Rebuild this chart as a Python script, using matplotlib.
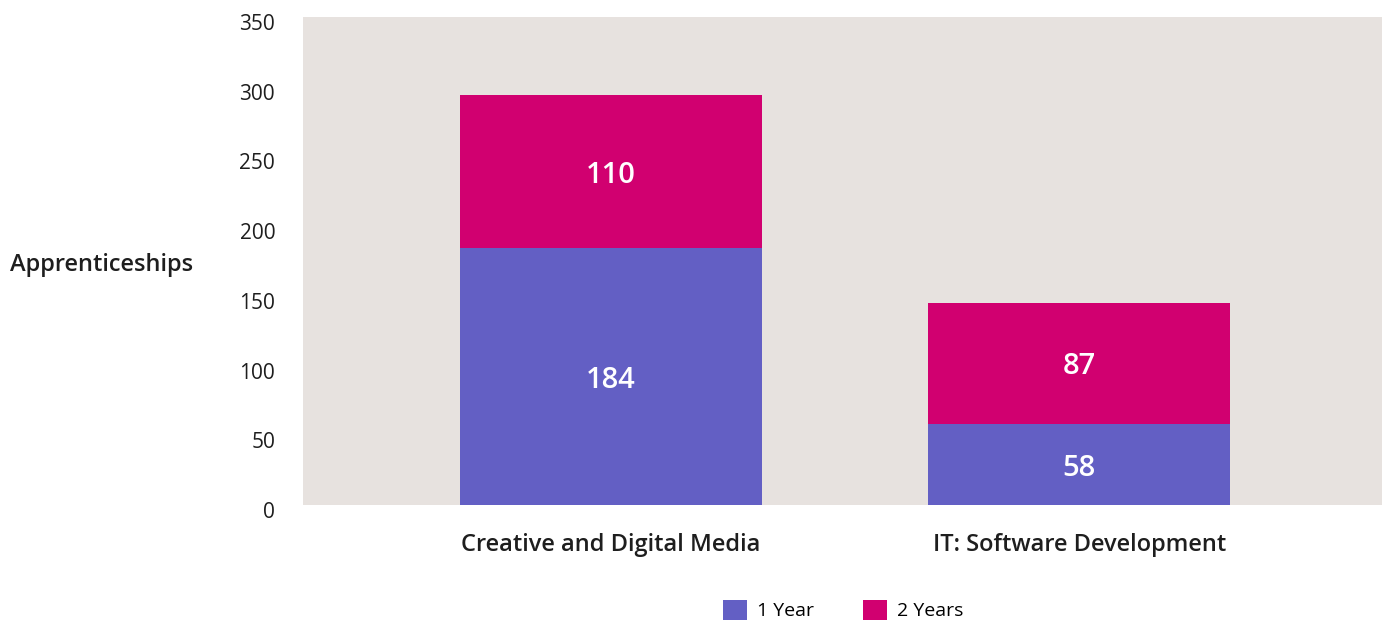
import matplotlib
matplotlib.use("Agg")
import matplotlib.pyplot as plt
import matplotlib.transforms as mtransforms
from matplotlib.patches import Patch

plt.rcParams['font.family'] = ['Open Sans', 'DejaVu Sans']

categories = ["Creative and Digital Media", "IT: Software Development"]
one_year = [184, 58]
two_years = [110, 87]
series_names = ["1 Year", "2 Years"]
y_ticks = [0, 50, 100, 150, 200, 250, 300, 350]

purple = "#635fc4"
magenta = "#d10070"
panel_bg = "#e7e2df"
ink = "#1e1e1e"

fig = plt.figure(figsize=(13.89, 6.23), dpi=100)
ax = fig.add_axes([0.2181, 0.1894, 0.7769, 0.7833])
ax.set_facecolor(panel_bg)

x = list(range(len(categories)))
width = 0.645
b1 = ax.bar(x, one_year, width=width, color=purple)
b2 = ax.bar(x, two_years, width=width, bottom=one_year, color=magenta)

for bars, vals, bottoms in ((b1, one_year, [0] * len(one_year)), (b2, two_years, one_year)):
    for rect, v, b in zip(bars, vals, bottoms):
        ax.text(rect.get_x() + rect.get_width() / 2, b + v / 2, str(v),
                ha="center", va="center_baseline", color="white", fontsize=21,
                fontweight="semibold")

ax.set_xlim(-0.658, 1.647)
ax.set_ylim(0, 350)
ax.set_yticks(y_ticks)
ax.set_yticklabels([str(t) for t in y_ticks], fontsize=15, color=ink)
ax.set_xticks(x)
ax.set_xticklabels(categories, fontsize=17, fontweight="semibold", color=ink)
ax.tick_params(axis="both", length=0)
ax.tick_params(axis="y", pad=20)
ax.tick_params(axis="x", pad=20)
for s in ax.spines.values():
    s.set_visible(False)

# nudge y tick labels slightly below their gridline positions
shift = mtransforms.ScaledTranslation(0, -5 / 100, fig.dpi_scale_trans)
for lbl in ax.get_yticklabels():
    lbl.set_transform(lbl.get_transform() + shift)

fig.text(10 / 1389, 1 - 265 / 623, "Apprenticeships", ha="left", va="center",
         fontsize=17, fontweight="semibold", color=ink)

handles = [Patch(facecolor=purple), Patch(facecolor=magenta)]
fig.legend(handles, series_names, loc="center", bbox_to_anchor=(843 / 1389, 1 - 610 / 623),
           ncol=2, frameon=False, handlelength=1.25, handleheight=1.25,
           handletextpad=0.5, columnspacing=2.5, prop={"size": 14})

fig.savefig("out.png", dpi=100)
